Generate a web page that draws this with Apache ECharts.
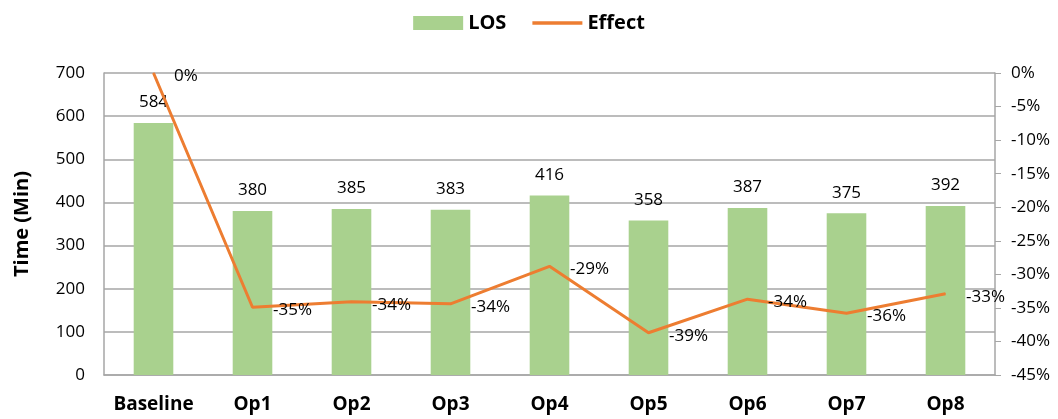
<!DOCTYPE html>
<html>
<head>
<meta charset="utf-8">
<script src="https://cdn.jsdelivr.net/npm/echarts@6/dist/echarts.min.js"></script>
<style>
  html, body { margin: 0; padding: 0; background: #fff; }
  #chart { width: 1058px; height: 419px; }
</style>
</head>
<body>
<div id="chart"></div>
<script>
const categories = ['Baseline', 'Op1', 'Op2', 'Op3', 'Op4', 'Op5', 'Op6', 'Op7', 'Op8'];
const losValues = [584, 380, 385, 383, 416, 358, 387, 375, 392];
const effectValues = [0, -0.349, -0.341, -0.344, -0.288, -0.387, -0.337, -0.358, -0.329];

const FONT = 'Open Sans';
const chart = echarts.init(document.getElementById('chart'));

const option = {
    textStyle: { fontFamily: FONT },
    legend: {
        top: 8,
        left: 'center',
        itemWidth: 50,
        itemHeight: 14,
        itemGap: 26,
        symbolKeepAspect: true,
        textStyle: { fontFamily: FONT, fontSize: 20, fontWeight: 'bold', color: '#000' },
        data: [
            { name: 'LOS', icon: 'rect' },
            { name: 'Effect', icon: 'path://M0,0H100V7H0Z' }
        ]
    },
    grid: { left: 104, right: 63, top: 73, bottom: 44 },
    xAxis: {
        type: 'category',
        data: categories,
        axisLine: { lineStyle: { color: '#a6a6a6', width: 1.5 } },
        axisTick: { show: false },
        axisLabel: {
            interval: 0,
            hideOverlap: false,
            fontFamily: FONT, fontSize: 19, fontWeight: 'bold', color: '#000', margin: 20
        }
    },
    yAxis: [
        {
            type: 'value',
            min: 0,
            max: 700,
            interval: 100,
            name: 'Time (Min)',
            nameLocation: 'middle',
            nameGap: 72,
            nameTextStyle: { fontFamily: FONT, fontSize: 20, fontWeight: 'bold', color: '#000' },
            axisLine: { show: true, lineStyle: { color: '#a6a6a6', width: 1.5 } },
            axisTick: { show: false },
            axisLabel: { fontFamily: FONT, fontSize: 17, color: '#000', margin: 19 },
            splitLine: { lineStyle: { color: '#a6a6a6', width: 1.5 } }
        },
        {
            type: 'value',
            min: -0.45,
            max: 0,
            interval: 0.05,
            position: 'right',
            axisLine: { show: true, lineStyle: { color: '#a6a6a6', width: 1.5 } },
            axisTick: { show: true, inside: false, length: 6, lineStyle: { color: '#a6a6a6' } },
            axisLabel: {
                fontFamily: FONT, fontSize: 17, color: '#000', margin: 16,
                formatter: v => Math.round(v * 100) + '%'
            },
            splitLine: { show: false }
        }
    ],
    series: [
        {
            name: 'LOS',
            type: 'bar',
            data: losValues,
            barWidth: '40%',
            itemStyle: { color: '#a9d18e' },
            label: {
                show: true,
                position: 'top',
                distance: 12,
                fontFamily: FONT,
                fontSize: 17,
                color: '#000'
            }
        },
        {
            name: 'Effect',
            type: 'line',
            yAxisIndex: 1,
            data: effectValues,
            symbol: 'circle',
            symbolSize: 1,
            showSymbol: true,
            lineStyle: { color: '#ed7d31', width: 3 },
            itemStyle: { color: '#ed7d31' },
            label: {
                show: true,
                position: 'right',
                distance: 20,
                offset: [0, 3],
                fontFamily: FONT,
                fontSize: 17,
                color: '#000',
                formatter: p => Math.round(p.value * 100) + '%'
            }
        }
    ]
};

chart.setOption(option);
</script>
</body>
</html>
